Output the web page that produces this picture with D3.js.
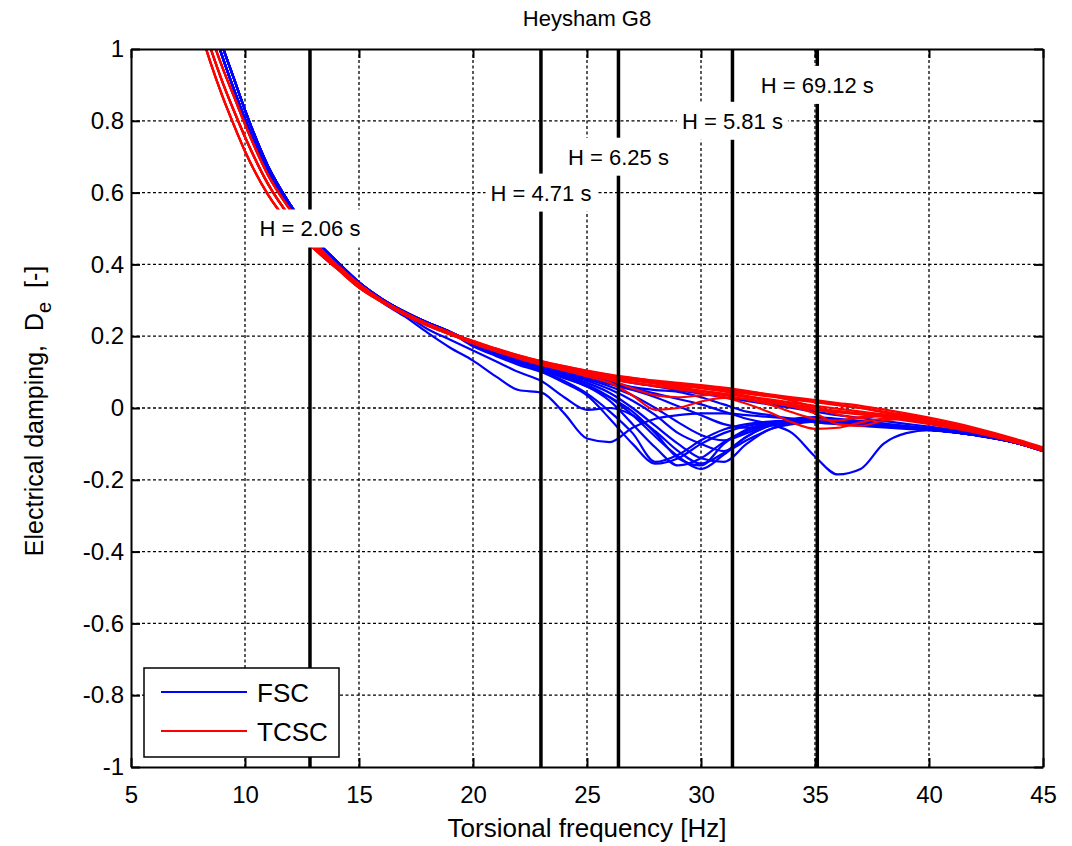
<html lang="en">
<head>
<meta charset="UTF-8">
<script src="https://d3js.org/d3.v7.min.js"></script>
<title>Heysham G8</title>
<style>
  * { padding: 0; margin: 0; }
  body { background: white; }
  svg { font-family: "Liberation Sans", Arial, sans-serif; }
  .grid line { stroke: black; stroke-width: 1.3; stroke-dasharray: 3,2.5; }
  .axis path, .axis line { stroke: black; stroke-width: 2; }
  .axis text { font-size: 24px; fill: black; }
</style>
</head>
<body>
<div id="chart"></div>
<script>
const w = 1072;
const h = 846;

// frequency grid [Hz] shared by every curve
const freqHz = [8, 8.5, 9, 9.5, 10, 11, 12, 13, 14, 15, 16, 17, 18, 19,
                20, 21, 22, 23, 24, 25, 26, 27, 28, 29, 30, 31, 32, 33, 34, 35, 36, 37, 38, 39, 40, 42, 44, 45];

// 8 .. 19 Hz part of the curves (steep branch)
const headRedL  = [1.06, 0.96, 0.87, 0.79, 0.715, 0.595, 0.51, 0.445, 0.39, 0.335, 0.295, 0.26, 0.23, 0.205];
const headRedM  = [1.10, 1.00, 0.91, 0.83, 0.755, 0.625, 0.53, 0.455, 0.395, 0.34, 0.298, 0.262, 0.232, 0.207];
const headRedR  = [1.14, 1.04, 0.95, 0.87, 0.79, 0.65, 0.55, 0.465, 0.40, 0.345, 0.30, 0.265, 0.235, 0.21];
const headBlueM = [1.18, 1.08, 0.98, 0.89, 0.805, 0.66, 0.555, 0.47, 0.405, 0.348, 0.302, 0.266, 0.236, 0.21];
const headBlueR = [1.22, 1.11, 1.01, 0.92, 0.83, 0.675, 0.565, 0.475, 0.41, 0.35, 0.304, 0.268, 0.238, 0.212];
const headBlueLow  = [1.18, 1.08, 0.98, 0.89, 0.805, 0.66, 0.555, 0.47, 0.405, 0.348, 0.295, 0.255, 0.21, 0.168];
const headBlueLow2 = [1.22, 1.11, 1.01, 0.92, 0.83, 0.675, 0.565, 0.475, 0.41, 0.35, 0.304, 0.262, 0.22, 0.19];

// 20 .. 45 Hz part, TCSC
const tailTCSC = [
  [0.186, 0.165, 0.146, 0.13, 0.116, 0.103, 0.092, 0.083, 0.075, 0.068, 0.062, 0.054, 0.046, 0.038, 0.03, 0.022, 0.014, 0.006, -0.004, -0.015, -0.027, -0.055, -0.09, -0.11],
  [0.184, 0.162, 0.142, 0.125, 0.11, 0.097, 0.086, 0.077, 0.069, 0.062, 0.055, 0.048, 0.04, 0.032, 0.024, 0.016, 0.008, 0.0, -0.01, -0.02, -0.032, -0.06, -0.093, -0.113],
  [0.18, 0.158, 0.138, 0.12, 0.105, 0.092, 0.08, 0.07, 0.062, 0.055, 0.048, 0.04, 0.03, 0.02, 0.01, 0.0, -0.008, -0.015, -0.022, -0.03, -0.04, -0.065, -0.097, -0.117],
  [0.182, 0.16, 0.14, 0.122, 0.105, 0.088, 0.07, 0.035, -0.005, 0.0, 0.018, 0.028, 0.025, 0.015, 0.005, -0.005, -0.012, -0.018, -0.025, -0.033, -0.042, -0.066, -0.098, -0.118],
  [0.183, 0.161, 0.141, 0.124, 0.108, 0.094, 0.082, 0.071, 0.061, 0.052, 0.043, 0.03, 0.012, -0.012, -0.04, -0.058, -0.055, -0.04, -0.03, -0.035, -0.045, -0.068, -0.1, -0.12],
  [0.185, 0.163, 0.144, 0.127, 0.112, 0.099, 0.088, 0.078, 0.068, 0.058, 0.048, 0.036, 0.024, 0.01, -0.012, -0.03, -0.035, -0.025, -0.02, -0.026, -0.036, -0.062, -0.095, -0.115],
  [0.187, 0.166, 0.147, 0.131, 0.117, 0.104, 0.093, 0.084, 0.076, 0.07, 0.064, 0.057, 0.048, 0.036, 0.02, 0.002, -0.018, -0.028, -0.022, -0.025, -0.034, -0.06, -0.094, -0.114],
  [0.181, 0.159, 0.14, 0.122, 0.107, 0.093, 0.078, 0.055, 0.035, 0.03, 0.035, 0.038, 0.032, 0.024, 0.015, 0.006, -0.002, -0.01, -0.018, -0.027, -0.037, -0.063, -0.096, -0.116],
  [0.185, 0.164, 0.145, 0.128, 0.114, 0.1, 0.089, 0.08, 0.072, 0.064, 0.056, 0.046, 0.034, 0.02, 0.004, -0.015, -0.045, -0.05, -0.035, -0.028, -0.035, -0.061, -0.094, -0.114],
  [0.183, 0.16, 0.14, 0.124, 0.11, 0.098, 0.087, 0.078, 0.07, 0.063, 0.057, 0.05, 0.043, 0.035, 0.027, 0.018, 0.009, 0.0, -0.012, -0.024, -0.036, -0.062, -0.095, -0.115]
];
const headTCSC = [headRedM, headRedR, headRedL, headRedM, headRedL, headRedR, headRedM, headRedL, headRedR, headRedM];

// 20 .. 45 Hz part, FSC
const tailFSC = [
  [0.132, 0.088, 0.05, 0.043, -0.015, -0.085, -0.095, -0.055, -0.03, -0.02, -0.015, -0.015, -0.02, -0.025, -0.03, -0.035, -0.04, -0.045, -0.05, -0.055, -0.06, -0.075, -0.1, -0.12],
  [0.16, 0.13, 0.1, 0.075, 0.03, -0.005, 0.0, -0.02, -0.065, -0.12, -0.155, -0.125, -0.08, -0.05, -0.04, -0.035, -0.04, -0.045, -0.05, -0.055, -0.06, -0.075, -0.1, -0.12],
  [0.172, 0.145, 0.12, 0.1, 0.07, 0.035, -0.03, -0.1, -0.155, -0.14, -0.1, -0.07, -0.05, -0.04, -0.035, -0.035, -0.04, -0.045, -0.05, -0.055, -0.06, -0.075, -0.1, -0.12],
  [0.176, 0.15, 0.128, 0.106, 0.083, 0.06, 0.02, -0.045, -0.11, -0.16, -0.14, -0.095, -0.065, -0.045, -0.038, -0.035, -0.04, -0.045, -0.05, -0.055, -0.06, -0.075, -0.1, -0.12],
  [0.178, 0.153, 0.131, 0.11, 0.088, 0.065, 0.03, -0.02, -0.08, -0.135, -0.17, -0.13, -0.08, -0.05, -0.04, -0.035, -0.038, -0.044, -0.05, -0.055, -0.06, -0.075, -0.1, -0.12],
  [0.18, 0.156, 0.134, 0.113, 0.092, 0.07, 0.042, 0.0, -0.05, -0.1, -0.14, -0.15, -0.1, -0.06, -0.045, -0.038, -0.04, -0.045, -0.05, -0.055, -0.06, -0.075, -0.1, -0.12],
  [0.181, 0.158, 0.136, 0.116, 0.096, 0.076, 0.052, 0.02, -0.02, -0.07, -0.1, -0.12, -0.09, -0.06, -0.04, -0.035, -0.038, -0.043, -0.048, -0.053, -0.058, -0.073, -0.1, -0.12],
  [0.182, 0.159, 0.138, 0.118, 0.099, 0.08, 0.06, 0.035, 0.0, -0.04, -0.075, -0.09, -0.07, -0.045, -0.032, -0.03, -0.034, -0.04, -0.046, -0.052, -0.058, -0.073, -0.1, -0.12],
  [0.183, 0.16, 0.14, 0.12, 0.102, 0.084, 0.066, 0.05, 0.03, 0.005, -0.02, -0.045, -0.055, -0.045, -0.03, -0.025, -0.03, -0.036, -0.043, -0.05, -0.056, -0.072, -0.1, -0.12],
  [0.184, 0.161, 0.141, 0.122, 0.104, 0.087, 0.07, 0.055, 0.04, 0.025, 0.01, -0.01, -0.03, -0.045, -0.07, -0.135, -0.185, -0.17, -0.1, -0.07, -0.062, -0.075, -0.1, -0.12],
  [0.185, 0.163, 0.144, 0.126, 0.11, 0.095, 0.082, 0.07, 0.06, 0.05, 0.04, 0.03, 0.02, 0.01, 0.0, -0.01, -0.02, -0.028, -0.036, -0.044, -0.052, -0.07, -0.098, -0.118],
  [0.184, 0.162, 0.142, 0.123, 0.106, 0.09, 0.075, 0.058, 0.05, 0.045, 0.03, 0.01, -0.01, -0.02, -0.03, -0.04, -0.045, -0.05, -0.054, -0.058, -0.062, -0.076, -0.1, -0.12],
  [0.178, 0.15, 0.125, 0.102, 0.075, 0.04, -0.01, -0.07, -0.15, -0.13, -0.09, -0.06, -0.045, -0.038, -0.035, -0.035, -0.04, -0.045, -0.05, -0.055, -0.06, -0.075, -0.1, -0.12],
  [0.177, 0.152, 0.13, 0.108, 0.085, 0.06, 0.03, -0.01, -0.07, -0.14, -0.16, -0.1, -0.06, -0.042, -0.035, -0.033, -0.038, -0.044, -0.05, -0.055, -0.06, -0.075, -0.1, -0.12]
];
const headFSC = [headBlueLow, headBlueLow2, headBlueM, headBlueR, headBlueM, headBlueR, headBlueM, headBlueR,
                 headBlueM, headBlueR, headBlueM, headBlueR, headBlueM, headBlueR];

// inertia constants marked on the plot
const hFreq = [12.85, 22.98, 26.38, 31.38, 35.1];
const hLevel = [0.5, 0.6, 0.7, 0.8, 0.9];
const hText = ['H = 2.06 s', 'H = 4.71 s', 'H = 6.25 s', 'H = 5.81 s', 'H = 69.12 s'];

const xTicks = [5, 10, 15, 20, 25, 30, 35, 40, 45];
const yTicks = [-1, -0.8, -0.6, -0.4, -0.2, 0, 0.2, 0.4, 0.6, 0.8, 1];
const legendItems = ['FSC', 'TCSC'];
const legendColors = ['#0000ff', '#ff0000'];

const pLeft = 131, pRight = 1043, pTop = 49, pBottom = 767;

const x = d3.scaleLinear().domain([5, 45]).range([pLeft, pRight]);
const y = d3.scaleLinear().domain([-1, 1]).range([pBottom, pTop]);

const svg = d3.select('#chart').append('svg')
    .attr('width', w)
    .attr('height', h);

svg.append('defs').append('clipPath')
    .attr('id', 'clip')
    .append('rect')
    .attr('x', pLeft).attr('y', pTop)
    .attr('width', pRight - pLeft).attr('height', pBottom - pTop);

// grid
const grid = svg.append('g').attr('class', 'grid');
grid.selectAll('.gx')
    .data(xTicks.slice(1, -1))
    .enter().append('line')
    .attr('x1', d => x(d)).attr('x2', d => x(d))
    .attr('y1', pTop).attr('y2', pBottom);
grid.selectAll('.gy')
    .data(yTicks.slice(1, -1))
    .enter().append('line')
    .attr('x1', pLeft).attr('x2', pRight)
    .attr('y1', d => y(d)).attr('y2', d => y(d));

// curves
const line = d3.line()
    .x((d, i) => x(freqHz[i]))
    .y(d => y(d))
    .curve(d3.curveMonotoneX);

const curves = svg.append('g').attr('clip-path', 'url(#clip)');

curves.selectAll('.fsc')
    .data(tailFSC.map((t, i) => headFSC[i].concat(t)))
    .enter().append('path')
    .attr('class', 'fsc')
    .attr('d', line)
    .attr('fill', 'none')
    .attr('stroke', legendColors[0])
    .attr('stroke-width', 2.2);

curves.selectAll('.tcsc')
    .data(tailTCSC.map((t, i) => headTCSC[i].concat(t)))
    .enter().append('path')
    .attr('class', 'tcsc')
    .attr('d', line)
    .attr('fill', 'none')
    .attr('stroke', legendColors[1])
    .attr('stroke-width', 2.2);

// vertical H lines
svg.selectAll('.hline')
    .data(hFreq)
    .enter().append('line')
    .attr('class', 'hline')
    .attr('x1', d => x(d)).attr('x2', d => x(d))
    .attr('y1', pTop).attr('y2', pBottom)
    .attr('stroke', 'black')
    .attr('stroke-width', 3.5);

// axes
const fmt = d => String(Math.round(d * 10) / 10);

svg.append('g').attr('class', 'axis')
    .attr('transform', 'translate(0,' + pBottom + ')')
    .call(d3.axisBottom(x).tickValues(xTicks).tickSizeInner(-9).tickSizeOuter(0).tickPadding(19));
svg.append('g').attr('class', 'axis')
    .attr('transform', 'translate(0,' + pTop + ')')
    .call(d3.axisTop(x).tickValues(xTicks).tickSizeInner(-9).tickSizeOuter(0).tickFormat(''));
svg.append('g').attr('class', 'axis')
    .attr('transform', 'translate(' + pLeft + ',0)')
    .call(d3.axisLeft(y).tickValues(yTicks).tickSizeInner(-9).tickSizeOuter(0).tickPadding(7).tickFormat(fmt));
svg.append('g').attr('class', 'axis')
    .attr('transform', 'translate(' + pRight + ',0)')
    .call(d3.axisRight(y).tickValues(yTicks).tickSizeInner(-9).tickSizeOuter(0).tickFormat(''));

// H labels with white boxes
const labels = svg.selectAll('.hlabel')
    .data(hText)
    .enter().append('g')
    .attr('class', 'hlabel')
    .attr('transform', (d, i) => 'translate(' + x(hFreq[i]) + ',' + y(hLevel[i]) + ')');

labels.append('text')
    .attr('text-anchor', 'middle')
    .attr('dy', '0.36em')
    .style('font-size', '22px')
    .text(d => d);

labels.each(function() {
    const g = d3.select(this);
    const bb = g.select('text').node().getBBox();
    g.insert('rect', 'text')
        .attr('x', bb.x - 5)
        .attr('y', -19)
        .attr('width', bb.width + 10)
        .attr('height', 38)
        .attr('fill', 'white');
});

// legend
const legend = svg.append('g').attr('class', 'legend');
legend.append('rect')
    .attr('x', 144).attr('y', 668)
    .attr('width', 195).attr('height', 89)
    .attr('fill', 'white')
    .attr('stroke', 'black')
    .attr('stroke-width', 1.5);

legend.selectAll('.lline')
    .data(legendItems)
    .enter().append('line')
    .attr('x1', 161).attr('x2', 247)
    .attr('y1', (d, i) => 692 + i * 39).attr('y2', (d, i) => 692 + i * 39)
    .attr('stroke', (d, i) => legendColors[i])
    .attr('stroke-width', 1.8);

legend.selectAll('.ltext')
    .data(legendItems)
    .enter().append('text')
    .attr('x', 257)
    .attr('y', (d, i) => 702 + i * 39)
    .style('font-size', '26px')
    .text(d => d);

// title and axis labels
svg.append('text')
    .attr('x', (pLeft + pRight) / 2)
    .attr('y', 26)
    .attr('text-anchor', 'middle')
    .style('font-size', '22px')
    .text('Heysham G8');

svg.append('text')
    .attr('x', (pLeft + pRight) / 2)
    .attr('y', 837)
    .attr('text-anchor', 'middle')
    .style('font-size', '26px')
    .text('Torsional frequency [Hz]');

const ylab = svg.append('text')
    .attr('transform', 'translate(43,' + (pTop + pBottom + 6) / 2 + ') rotate(-90)')
    .attr('text-anchor', 'middle')
    .style('font-size', '25px')
    .style('white-space', 'pre');
ylab.append('tspan').text('Electrical damping,  D');
ylab.append('tspan').attr('dy', 8).style('font-size', '20px').text('e');
ylab.append('tspan').attr('dy', -8).text('  [-]');
</script>
</body>
</html>
